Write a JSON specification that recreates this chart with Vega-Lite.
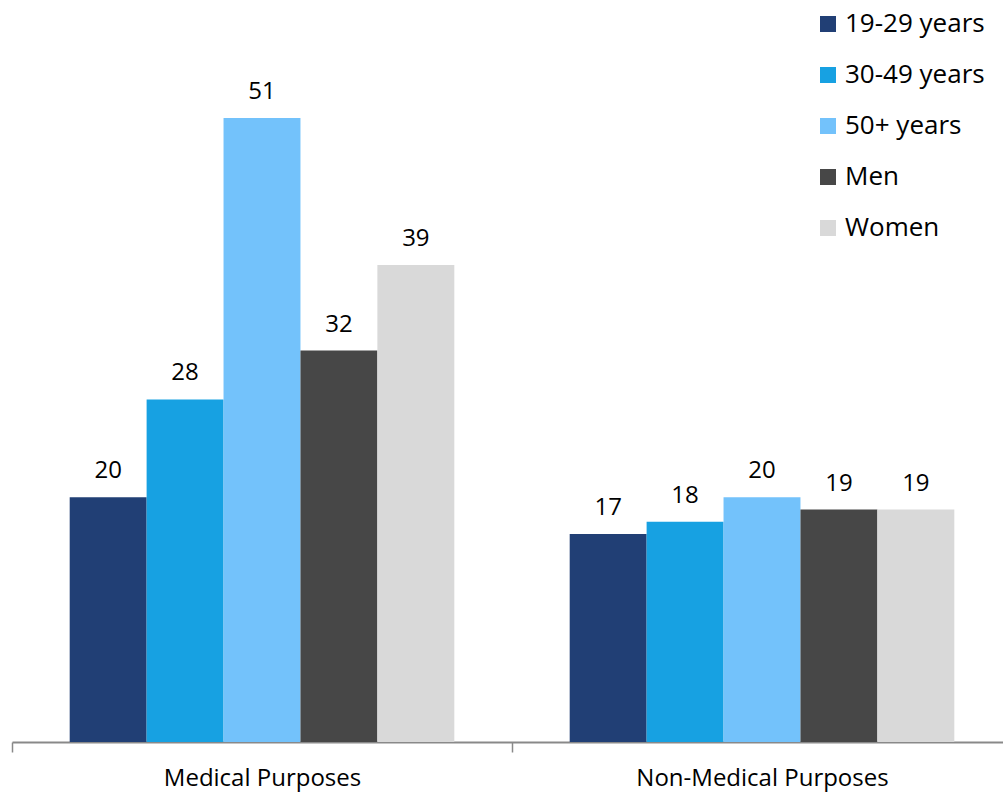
{
  "$schema": "https://vega.github.io/schema/vega-lite/v6.json",
  "autosize": {"type": "none"},
  "padding": {"left": 12, "top": 8, "right": 0, "bottom": 52},
  "width": 1000,
  "height": 734,
  "background": "white",
  "config": {
    "view": {"stroke": null},
    "font": "Open Sans",
    "text": {"font": "Open Sans"}
  },
  "data": {
    "values": [
      {"purpose": "Medical Purposes", "group": "19-29 years", "value": 20},
      {"purpose": "Medical Purposes", "group": "30-49 years", "value": 28},
      {"purpose": "Medical Purposes", "group": "50+ years", "value": 51},
      {"purpose": "Medical Purposes", "group": "Men", "value": 32},
      {"purpose": "Medical Purposes", "group": "Women", "value": 39},
      {"purpose": "Non-Medical Purposes", "group": "19-29 years", "value": 17},
      {"purpose": "Non-Medical Purposes", "group": "30-49 years", "value": 18},
      {"purpose": "Non-Medical Purposes", "group": "50+ years", "value": 20},
      {"purpose": "Non-Medical Purposes", "group": "Men", "value": 19},
      {"purpose": "Non-Medical Purposes", "group": "Women", "value": 19}
    ]
  },
  "encoding": {
    "x": {
      "field": "purpose",
      "type": "nominal",
      "sort": null,
      "scale": {"paddingInner": 0, "paddingOuter": 0},
      "axis": {
        "title": null,
        "labelAngle": 0,
        "labelLimit": 0,
        "tickBand": "extent",
        "domainColor": "#898989",
        "domainWidth": 2,
        "tickColor": "#898989",
        "tickWidth": 1.5,
        "tickSize": 10,
        "labelFontSize": 24,
        "labelColor": "#000000",
        "labelPadding": 14,
        "labelFont": "Open Sans"
      }
    },
    "xOffset": {
      "field": "group",
      "type": "nominal",
      "sort": null,
      "scale": {"paddingInner": 0, "paddingOuter": 0.75}
    },
    "y": {
      "field": "value",
      "type": "quantitative",
      "scale": {"domain": [0, 60], "nice": false},
      "axis": null
    }
  },
  "layer": [
    {
      "mark": {"type": "bar"},
      "encoding": {
        "color": {
          "field": "group",
          "type": "nominal",
          "sort": null,
          "scale": {
            "domain": ["19-29 years", "30-49 years", "50+ years", "Men", "Women"],
            "range": ["#213f75", "#17a1e2", "#73c2fb", "#474747", "#d9d9d9"]
          },
          "legend": {
            "title": null,
            "orient": "none",
            "legendX": 803,
            "legendY": 3,
            "symbolType": "square",
            "symbolSize": 256,
            "symbolStrokeWidth": 0,
            "labelFontSize": 26,
            "labelColor": "#000000",
            "labelFont": "Open Sans",
            "labelOffset": 4,
            "rowPadding": 25
          }
        }
      }
    },
    {
      "mark": {"type": "text", "baseline": "alphabetic", "dy": -19, "fontSize": 24, "color": "#000000"},
      "encoding": {
        "text": {"field": "value", "type": "quantitative"}
      }
    }
  ]
}
